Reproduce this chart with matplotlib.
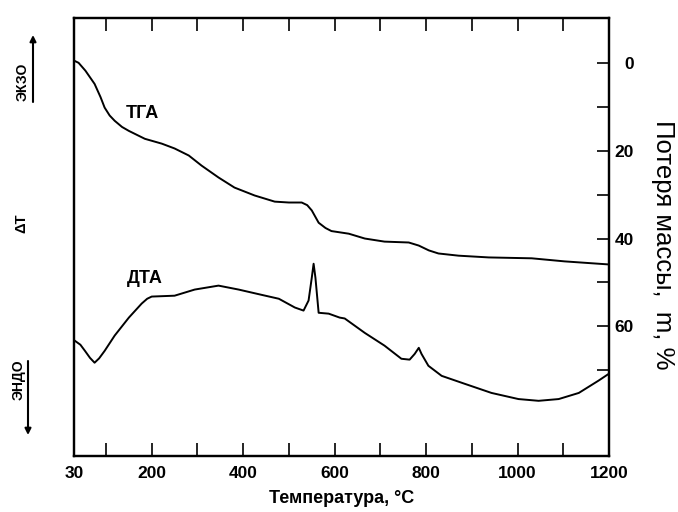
import matplotlib
matplotlib.use("Agg")
from matplotlib import pyplot as plt
from matplotlib.ticker import FixedLocator

# TGA: temperature (C) vs mass loss (%)
tga_t = [32, 40, 55, 75, 88, 97, 108, 119, 135, 150, 185, 222, 250, 281,
         309, 346, 381, 425, 469, 500, 528, 540, 550, 565, 580, 593, 631,
         666, 709, 762, 784, 806, 827, 871, 937, 1031, 1103, 1200]
tga_m = [-0.4, 0.0, 1.8, 4.8, 7.8, 10.2, 12.0, 13.2, 14.6, 15.5, 17.3, 18.4,
         19.5, 21.1, 23.4, 26.1, 28.4, 30.2, 31.6, 31.8, 31.8, 32.4, 33.6,
         36.4, 37.6, 38.3, 38.9, 40.0, 40.7, 40.9, 41.6, 42.7, 43.4, 43.9,
         44.3, 44.5, 45.2, 45.9]

# DTA: temperature (C) vs delta T (arbitrary units)
dta_t = [32, 44, 54, 65, 75, 85, 97, 119, 150, 178, 190, 200, 250, 294,
         346, 390, 440, 478, 513, 532, 543, 550, 554, 558, 565, 587, 611,
         622, 666, 709, 746, 764, 775, 784, 790, 805, 834, 884, 943, 1002,
         1046, 1090, 1134, 1177, 1200]
dta_v = [26.3, 25.4, 24.0, 22.4, 21.3, 22.3, 24.0, 27.5, 31.6, 34.8, 35.9,
         36.4, 36.6, 38.0, 38.9, 38.0, 36.8, 35.9, 33.9, 33.2, 35.5, 40.7,
         43.9, 40.7, 32.7, 32.5, 31.6, 31.4, 28.1, 25.2, 22.2, 22.0, 23.3,
         24.7, 23.3, 20.6, 18.3, 16.5, 14.4, 13.0, 12.6, 13.0, 14.4, 17.2,
         18.8]

x_labels_at = [30, 200, 400, 600, 800, 1000, 1200]
x_minor_at = [100, 300, 500, 700, 900, 1100]
mass_labels_at = [0, 20, 40, 60]
mass_minor_at = [10, 30, 50, 70]

W, H = 678, 512
fig = plt.figure(figsize=(W / 100, H / 100), dpi=100)
ax = fig.add_axes([74 / W, 1 - 456 / H, (609 - 74) / W, (456 - 18) / H])
ax2 = ax.twinx()

font = "Liberation Sans"

ax.plot(dta_t, dta_v, color="black", lw=1.4)
ax2.plot(tga_t, tga_m, color="black", lw=1.4)

ax.set_xlim(30, 1200)
ax.set_ylim(0, 100)
ax2.set_ylim(89.5, -10.2)

ax.xaxis.set_major_locator(FixedLocator(x_labels_at))
ax.xaxis.set_minor_locator(FixedLocator(x_minor_at))
ax.set_xticklabels([str(v) for v in x_labels_at], fontfamily=font,
                   fontweight="bold", fontsize=12.5)
ax.tick_params(axis="x", which="both", direction="in", top=True,
               bottom=True, length=9.5, width=1.2, pad=7)
ax.set_yticks([])

ax2.yaxis.set_major_locator(FixedLocator(mass_labels_at))
ax2.yaxis.set_minor_locator(FixedLocator(mass_minor_at))
ax2.set_yticklabels([str(v) for v in mass_labels_at], fontfamily=font,
                    fontweight="bold", fontsize=12.5)
ax2.tick_params(axis="y", which="both", direction="in", length=8.5,
                width=1.2, pad=18)
for lbl in ax2.get_yticklabels():
    lbl.set_horizontalalignment("right")

for a in (ax, ax2):
    for s in a.spines.values():
        s.set_linewidth(1.6)

ax.set_xlabel("Температура, °С", fontfamily=font, fontweight="bold",
              fontsize=13, labelpad=7)

ax2.text(180, 11.5, "ТГА", fontfamily=font, fontweight="bold", fontsize=13,
         ha="center", va="center")
ax.text(185, 40.5, "ДТА", fontfamily=font, fontweight="bold", fontsize=13,
        ha="center", va="center")

fig.text(663 / W, 1 - 245 / H, "Потеря массы,  m, %", fontfamily=font,
         fontsize=18.5, rotation=-90, ha="center", va="center")

# exo / endo markers on the left
fig.text(23 / W, 1 - 82 / H, "ЭКЗО", fontfamily=font, fontweight="bold",
         fontsize=10, rotation=90, ha="center", va="center")
fig.text(21 / W, 1 - 223 / H, "ΔТ", fontfamily=font, fontweight="bold",
         fontsize=10.5, rotation=90, ha="center", va="center")
fig.text(19 / W, 1 - 380 / H, "ЭНДО", fontfamily=font, fontweight="bold",
         fontsize=10, rotation=90, ha="center", va="center")
arrow = dict(arrowstyle="-|>", lw=1.5, color="black", mutation_scale=9,
             shrinkA=0, shrinkB=0)
fig.add_artist(plt.Annotation("", xy=(33 / W, 1 - 35 / H),
                              xytext=(33 / W, 1 - 102 / H),
                              xycoords="figure fraction",
                              arrowprops=arrow))
fig.add_artist(plt.Annotation("", xy=(28 / W, 1 - 435 / H),
                              xytext=(28 / W, 1 - 361 / H),
                              xycoords="figure fraction",
                              arrowprops=arrow))

fig.savefig("out.png", dpi=100)
